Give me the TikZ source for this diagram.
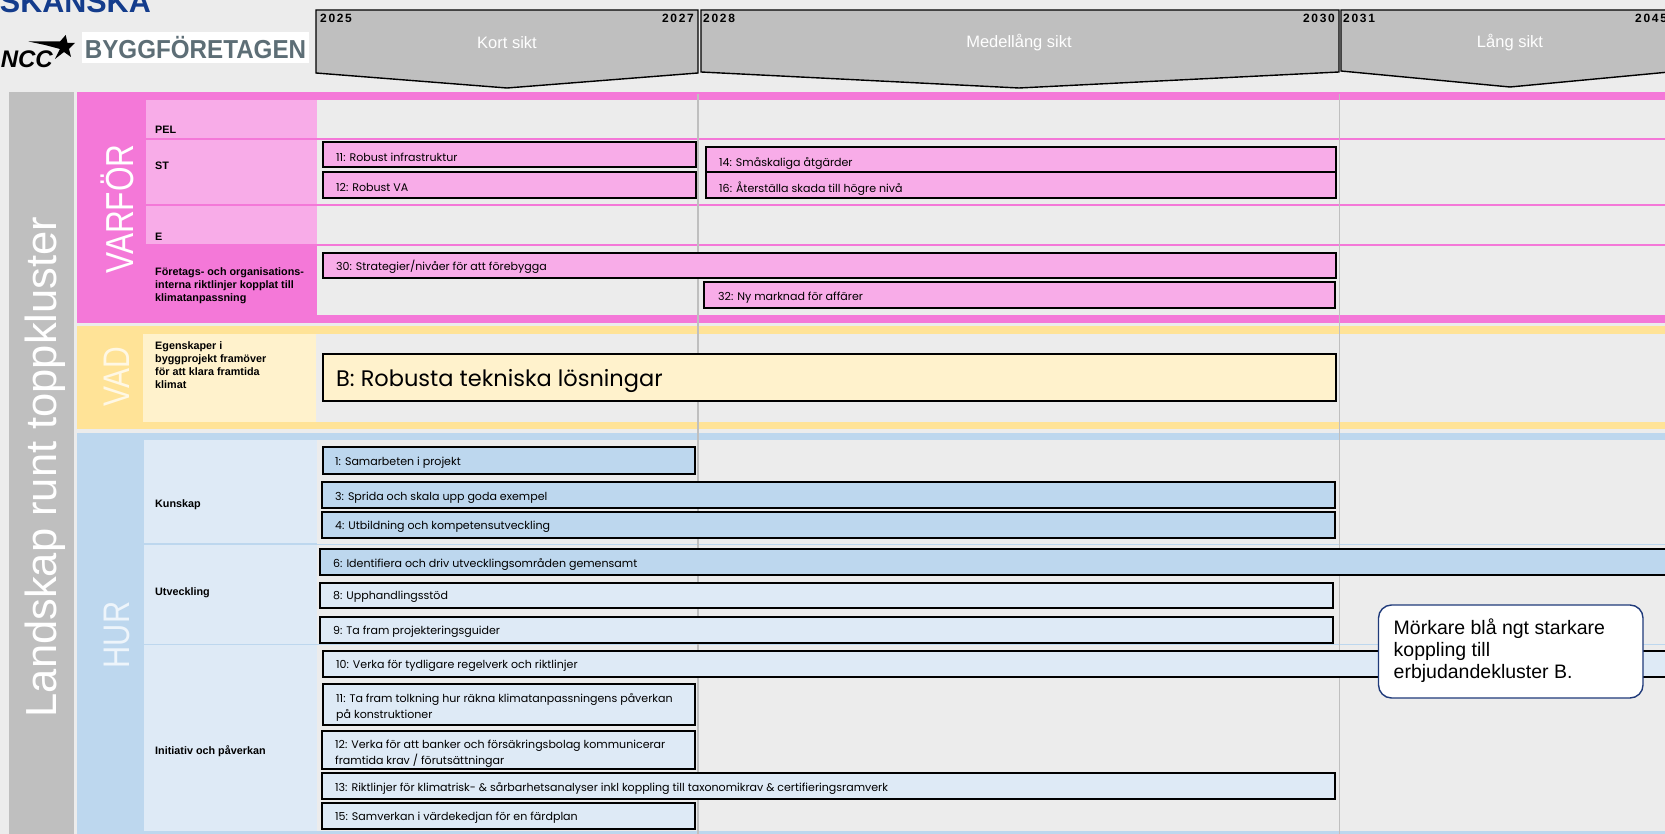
\documentclass[tikz,border=0pt]{standalone}
\usepackage{fontspec}
\setmainfont{Liberation Sans}
\newfontfamily\barfont{Poppins}
\newfontfamily\yearfont[LetterSpace=14]{Liberation Sans}
\definecolor{pagegray}{HTML}{ECECEC}
\definecolor{colgray}{HTML}{BFBFBF}
\definecolor{pinkdark}{HTML}{F478D8}
\definecolor{pinklight}{HTML}{F8ACE8}
\definecolor{yellowdark}{HTML}{FFE397}
\definecolor{yellowlight}{HTML}{FFF2CC}
\definecolor{yellowtext}{HTML}{FFF8E5}
\definecolor{bluedark}{HTML}{BDD7EE}
\definecolor{bluelight}{HTML}{DEEAF6}
\definecolor{bluetext}{HTML}{EEF5FB}
\definecolor{notelinje}{HTML}{1F3A7A}
\definecolor{skanskablue}{HTML}{143C8C}
\definecolor{byggtext}{HTML}{5D6E76}
\tikzset{
  phase/.style={draw=black, line width=1.4pt, fill=colgray},
  phasetext/.style={text=white, font=\fontsize{16.5}{20}\selectfont},
  yeartext/.style={font=\yearfont\bfseries\fontsize{12}{14}\selectfont, inner sep=0pt},
  bigtext/.style={rotate=90, text=white, inner sep=0pt},
  celltext/.style={anchor=west, inner sep=0pt, align=left, font=\bfseries\fontsize{10.8}{13}\selectfont},
  pinkbar/.style={draw=black, line width=2pt, fill=pinklight},
  darkbar/.style={draw=black, line width=2pt, fill=bluedark},
  lightbar/.style={draw=black, line width=2pt, fill=bluelight},
  bartext/.style={anchor=west, inner sep=0pt, align=left, font=\barfont\fontsize{11.05}{16}\selectfont},
}
\begin{document}
\begin{tikzpicture}[x=1pt, y=-1pt]
  \useasboundingbox (0,0) rectangle (1665,834);
  \fill[pagegray] (0,0) rectangle (1665,834);
  % logos
  \node[anchor=base east, inner sep=0pt, text=skanskablue, font=\bfseries\fontsize{30.5}{32}\selectfont] (skanska) at (151,12.7) {SKANSKA};
  \node[anchor=east, inner sep=0pt, font=\bfseries\itshape\fontsize{24}{28}\selectfont] (ncc) at (53,59) {NCC};
  \fill[black] (28.5,41.5) -- (60,41.5) -- (65.7,35) -- (67.5,43) -- (75,43) -- (69,49) -- (71,57) -- (64,52) -- (55,59) -- (60,49) -- (45,45) -- cycle;
  \node[fill=white, minimum width=227pt, minimum height=31pt, inner sep=0pt, text=byggtext, font=\bfseries\fontsize{26}{30}\selectfont] (bygg) at (195.5,47.5) {\scalebox{0.93}[1]{BYGGFÖRETAGEN}};
  % time phases
  \draw[phase] (316,10) -- (698,10) -- (698,73) -- (507,88) -- (316,73) -- cycle;
  \draw[phase] (701,10) -- (1339,10) -- (1339,72) -- (1019,88) -- (701,72) -- cycle;
  \draw[phase] (1341,10) -- (1680,10) -- (1680,71) -- (1510,87) -- (1341,71) -- cycle;
  \node[phasetext] (kort) at (507,42.5) {Kort sikt};
  \node[phasetext] (medel) at (1019,42.5) {Medellång sikt};
  \node[phasetext] (lang) at (1510,42.5) {Lång sikt};
  \node[yeartext, anchor=west] (y2025) at (320,18) {2025};
  \node[yeartext, anchor=east] (y2027) at (694,18) {2027};
  \node[yeartext, anchor=west] (y2028) at (703,18) {2028};
  \node[yeartext, anchor=east] (y2030) at (1335,18) {2030};
  \node[yeartext, anchor=west] (y2031) at (1343,18) {2031};
  \node[yeartext, anchor=west] (y2045) at (1635,18) {2045};
  % bands
  \fill[colgray] (9,92) rectangle (73.5,834);
  \fill[pinkdark] (77,92) rectangle (1665,323);
  \fill[pagegray] (317,100) rectangle (1665,315);
  \fill[pinklight] (146,100) rectangle (317,138);
  \fill[pinklight] (146,140) rectangle (317,204);
  \fill[pinklight] (146,206) rectangle (317,244);
  \foreach \y in {139,205,245}
    \draw[pinkdark, line width=1.8pt] (317,\y) -- (1665,\y);
  \fill[yellowdark] (77,326) rectangle (1665,429);
  \fill[pagegray] (316,334) rectangle (1665,422);
  \fill[yellowlight] (143,334) rectangle (316,422);
  \fill[bluedark] (77,433) rectangle (1665,834);
  \fill[pagegray] (317,440) rectangle (1665,831);
  \fill[bluelight] (144,440) rectangle (317,543);
  \fill[bluelight] (144,545) rectangle (317,644);
  \fill[bluelight] (144,645) rectangle (317,831);
  \foreach \y in {544,644.5}
    \draw[bluedark, line width=1pt] (317,\y) -- (1665,\y);
  \foreach \x in {698,1339.5}
    \draw[colgray, line width=1.3pt] (\x,94) -- (\x,834);
  % side labels
  \node[bigtext, font=\fontsize{43.5}{48}\selectfont] (landskap) at (45,467) {Landskap runt toppkluster};
  \node[bigtext, font=\fontsize{39}{42}\selectfont] (varfor) at (117,209) {\scalebox{0.81}[1]{VARFÖR}};
  \node[bigtext, text=yellowtext, font=\fontsize{37}{40}\selectfont] (vad) at (117,377) {\scalebox{0.81}[1]{VAD}};
  \node[bigtext, text=bluetext, font=\fontsize{37}{40}\selectfont] (hur) at (117,635) {\scalebox{0.83}[1]{HUR}};
  % cell labels
  \node[celltext] (pel) at (155,129.5) {PEL};
  \node[celltext] (st) at (155,165.5) {ST};
  \node[celltext] (e) at (155,237) {E};
  \node[celltext] (interna) at (155,285.5) {Företags- och organisations-\\interna riktlinjer kopplat till\\klimatanpassning};
  \node[celltext] (egenskaper) at (155,365.5) {Egenskaper i\\byggprojekt framöver\\för att klara framtida\\klimat};
  \node[celltext] (kunskap) at (155,504.5) {Kunskap};
  \node[celltext] (utveckling) at (155,592.5) {Utveckling};
  \node[celltext] (initiativ) at (155,751.5) {Initiativ och påverkan};
  % pink bars
  \draw[pinkbar] (323,142) rectangle (696,167);
  \node[bartext] (p11) at (336,157) {11: Robust infrastruktur};
  \draw[pinkbar] (323,172) rectangle (696,198);
  \node[bartext] (p12) at (336,187) {12: Robust VA};
  \draw[pinkbar] (706,147) rectangle (1336,172.5);
  \node[bartext] (p14) at (719,163) {14: Småskaliga åtgärder};
  \draw[pinkbar] (706,172.5) rectangle (1336,198.5);
  \node[bartext] (p16) at (719,189) {16: Återställa skada till högre nivå};
  \draw[pinkbar] (323,253) rectangle (1336,278);
  \node[bartext] (p30) at (336,267) {30: Strategier/nivåer för att förebygga};
  \draw[pinkbar] (704,282) rectangle (1334.5,308);
  \node[bartext] (p32) at (718,298) {32: Ny marknad för affärer};
  % yellow bar
  \draw[draw=black, line width=2pt, fill=yellowlight] (323,354) rectangle (1336,401);
  \node[bartext, font=\barfont\fontsize{22.5}{28}\selectfont] (erbjudande) at (336,381) {B: Robusta tekniska lösningar};
  % blue bars
  \draw[darkbar] (323,447) rectangle (695,474);
  \node[bartext] (b1) at (335,463) {1: Samarbeten i projekt};
  \draw[darkbar] (321.5,482) rectangle (1335,508);
  \node[bartext] (b3) at (335,498) {3: Sprida och skala upp goda exempel};
  \draw[darkbar] (321.5,512) rectangle (1335,538);
  \node[bartext] (b4) at (335,527) {4: Utbildning och kompetensutveckling};
  \draw[darkbar] (319.5,549) rectangle (1680,575);
  \node[bartext] (b6) at (333,564) {6: Identifiera och driv utvecklingsområden gemensamt};
  \draw[lightbar] (319.5,582.5) rectangle (1333,608);
  \node[bartext] (b8) at (333,597) {8: Upphandlingsstöd};
  \draw[lightbar] (319.5,617) rectangle (1333,643);
  \node[bartext] (b9) at (333,632) {9: Ta fram projekteringsguider};
  \draw[lightbar] (323,651) rectangle (1680,677);
  \node[bartext] (b10) at (336,666) {10: Verka för tydligare regelverk och riktlinjer};
  \draw[lightbar] (323,684) rectangle (695,725);
  \node[bartext] (b11) at (336,707) {11: Ta fram tolkning hur räkna klimatanpassningens påverkan\\på konstruktioner};
  \draw[lightbar] (321.5,731) rectangle (694.5,769);
  \node[bartext] (b12) at (335,754) {12: Verka för att banker och försäkringsbolag kommunicerar\\framtida krav / förutsättningar};
  \draw[lightbar] (321.5,773) rectangle (1335,799);
  \node[bartext] (b13) at (335,788) {13: Riktlinjer för klimatrisk- \& sårbarhetsanalyser inkl koppling till taxonomikrav \& certifieringsramverk};
  \draw[lightbar] (321.5,803) rectangle (694.5,829);
  \node[bartext] (b15) at (335,818) {15: Samverkan i värdekedjan för en färdplan};
  % note
  \draw[draw=notelinje, line width=1.4pt, fill=white, rounded corners=13pt] (1378.5,605) rectangle (1643,698);
  \node[anchor=west, inner sep=0pt, align=left, font=\fontsize{19.5}{22}\selectfont] (note) at (1393.5,651) {Mörkare blå ngt starkare\\koppling till\\erbjudandekluster B.};
\end{tikzpicture}
\end{document}
